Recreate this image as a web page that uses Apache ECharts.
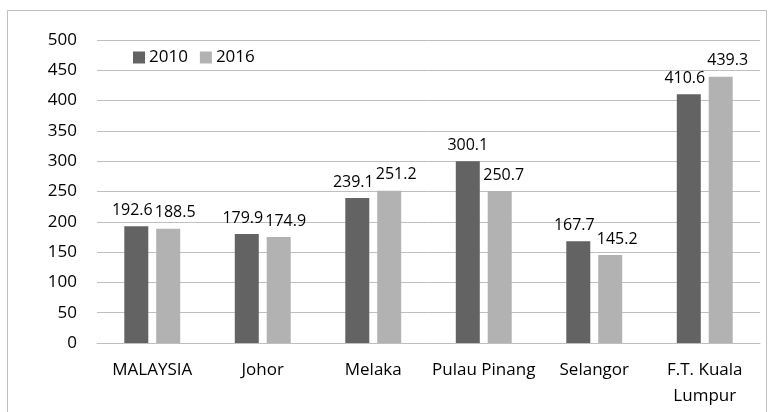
<!DOCTYPE html>
<html>
<head>
    <meta charset="utf-8">
    <title>2010 vs 2016</title>
    <script src="https://cdn.jsdelivr.net/npm/echarts@6/dist/echarts.min.js"></script>
    <style>
        html, body { margin: 0; padding: 0; background: #fff; }
    </style>
</head>
<body>
<div id="chart-container" style="width: 769px; height: 412px;"></div>
<script>
    // 数据
    var categories = ['MALAYSIA', 'Johor', 'Melaka', 'Pulau Pinang', 'Selangor', 'F.T. Kuala\nLumpur'];
    var data2010 = [192.6, 179.9, 239.1, 300.1, 167.7, 410.6];
    var data2016 = [188.5, 174.9, 251.2, 250.7, 145.2, 439.3];
    var seriesNames = ['2010', '2016'];

    var fontFam = '"Open Sans", "Noto Sans", sans-serif';

    var labelStyle = {
        show: true, position: 'top', distance: 8,
        fontFamily: fontFam, fontSize: 16, color: '#000'
    };

    // 两个标签上下重叠时左右错开（类似 Excel）
    function shiftLabels(params) {
        var a = data2010[params.dataIndex];
        var b = data2016[params.dataIndex];
        var close = Math.abs(a - b) < 30;
        if (params.seriesIndex === 0) {
            return close ? { dx: -4 } : {};
        }
        if (close) return { dx: 7 };
        if (b < a) return { dx: 4 };
        return {};
    }

    var option1 = {
        animation: false,
        graphic: [{
            type: 'rect',
            shape: { x: 7.5, y: 10.5, width: 759, height: 420 },
            style: { fill: 'none', stroke: '#bfbfbf', lineWidth: 1 },
            silent: true
        }],
        legend: {
            left: 133,
            top: 49,
            padding: 0,
            itemWidth: 12,
            itemHeight: 12,
            itemGap: 12,
            icon: 'rect',
            textStyle: { fontFamily: fontFam, fontSize: 17, color: '#000', padding: [0, 0, 0, -1] },
            data: seriesNames
        },
        grid: {
            left: 97,
            right: 9,
            top: 40,
            bottom: 69
        },
        xAxis: {
            type: 'category',
            data: categories,
            axisTick: { show: false },
            axisLine: { lineStyle: { color: '#bfbfbf' } },
            axisLabel: {
                fontFamily: fontFam, fontSize: 17, color: '#000',
                margin: 14, lineHeight: 26, interval: 0
            }
        },
        yAxis: {
            type: 'value',
            min: 0,
            max: 500,
            interval: 50,
            axisLine: { show: false },
            axisTick: { show: false },
            splitLine: { lineStyle: { color: '#bfbfbf' } },
            axisLabel: { fontFamily: fontFam, fontSize: 17, color: '#000', margin: 20 }
        },
        series: [
            {
                name: seriesNames[0],
                type: 'bar',
                barWidth: 24,
                barGap: '33%',
                itemStyle: { color: '#636363' },
                label: labelStyle,
                labelLayout: shiftLabels,
                data: data2010
            },
            {
                name: seriesNames[1],
                type: 'bar',
                barWidth: 24,
                itemStyle: { color: '#b2b2b2' },
                label: labelStyle,
                labelLayout: shiftLabels,
                data: data2016
            }
        ]
    };

    var chart = echarts.init(document.getElementById('chart-container'));
    chart.setOption(option1);
</script>
</body>
</html>
